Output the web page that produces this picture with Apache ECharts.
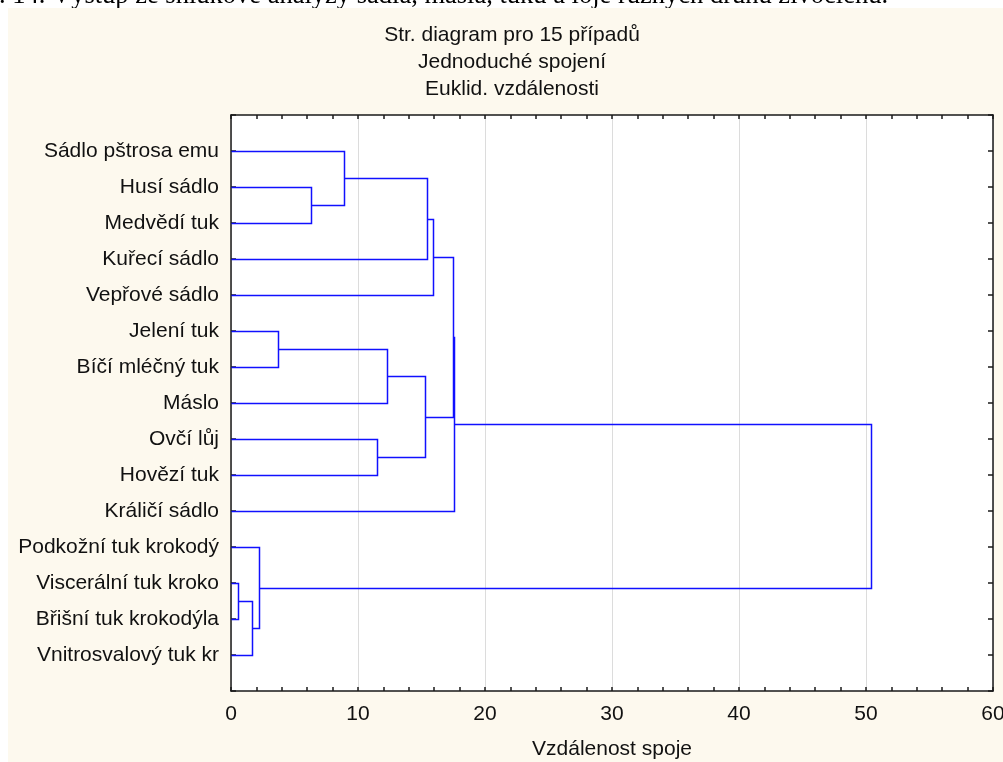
<!DOCTYPE html>
<html>
<head>
<meta charset="utf-8">
<script src="https://cdn.jsdelivr.net/npm/echarts@6/dist/echarts.min.js"></script>
<style>
  html, body { margin: 0; padding: 0; background: #fff; overflow: hidden; }
  #chart { width: 1003px; height: 762px; }
</style>
</head>
<body>
<div id="chart"></div>
<script>
// Leaf order from top to bottom of the tree
const names = [
  'Sádlo pštrosa emu',
  'Husí sádlo',
  'Medvědí tuk',
  'Kuřecí sádlo',
  'Vepřové sádlo',
  'Jelení tuk',
  'Bíčí mléčný tuk',
  'Máslo',
  'Ovčí lůj',
  'Hovězí tuk',
  'Králičí sádlo',
  'Podkožní tuk krokodý',
  'Viscerální tuk kroko',
  'Břišní tuk krokodýla',
  'Vnitrosvalový tuk kr'
];

// Agglomeration steps: [node A, node B, linkage distance].
// Leaves are nodes 0..14, each step creates node 15, 16, ...
const mergeA = [12, 15, 11, 5, 1, 0, 8, 18, 22, 20, 24, 25, 26, 27];
const mergeB = [13, 14, 16, 6, 2, 19, 9, 7, 21, 3, 4, 23, 10, 17];
const mergeDist = [0.55, 1.68, 2.2, 3.68, 6.3, 8.89, 11.47, 12.25, 15.27, 15.45, 15.92, 17.5, 17.58, 50.37];

const xTicks = [0, 10, 20, 30, 40, 50, 60];

const titleLines = ['Str. diagram pro 15 případů', 'Jednoduché spojení', 'Euklid. vzdálenosti'];
const caption = 'Obr. 14. Výstup ze shlukové analýzy sádla, másla, tuků a loje různých druhů živočichů.';
const xName = 'Vzdálenost spoje';

// Build link geometry (in data units) from the merge list
const nodeY = names.map((_, i) => i + 1);
const nodeX = names.map(() => 0);
const links = mergeA.map((a, k) => {
  const b = mergeB[k], h = mergeDist[k];
  const row = [h, nodeY[a], nodeY[b], nodeX[a], nodeX[b]];
  nodeY.push((nodeY[a] + nodeY[b]) / 2);
  nodeX.push(h);
  return row;
});

const FONT = 'Arial, "Liberation Sans", sans-serif';
const FS = 21;
const AXIS_COLOR = '#1a1a1a';
const TEXT_COLOR = '#111';
const PANEL = '#fdf9ee';

const chart = echarts.init(document.getElementById('chart'), null, { renderer: 'canvas' });

const titleY = [35, 62.2, 89.4];

function frameAxis(extra) {
  return Object.assign({
    axisLine: { show: true, onZero: false, lineStyle: { color: AXIS_COLOR, width: 1.5 } },
    splitLine: { show: false }
  }, extra);
}

chart.setOption({
  backgroundColor: PANEL,
  animation: false,
  graphic: [
    // white page margin around the panel, with the page caption running above it
    { type: 'rect', shape: { x: 0, y: 0, width: 1003, height: 8 }, style: { fill: '#fff' }, z: 10 },
    { type: 'rect', shape: { x: 0, y: 0, width: 8, height: 762 }, style: { fill: '#fff' }, z: 10 },
    {
      type: 'text', x: 888, y: 9.5, z: 11,
      style: { text: caption, font: '26.5px "Liberation Serif", "Times New Roman", serif', fill: '#000',
               textAlign: 'right', textVerticalAlign: 'bottom' }
    },
    { type: 'rect', shape: { x: 8, y: 8, width: 995, height: 8 }, style: { fill: PANEL }, z: 12 },
    { type: 'rect', shape: { x: 0, y: 8, width: 8, height: 8 }, style: { fill: '#fff' }, z: 12 }
  ].concat(titleLines.map((t, i) => ({
    type: 'text', x: 512, y: titleY[i], z: 13,
    style: { text: t, font: FS + 'px ' + FONT, fill: TEXT_COLOR, textAlign: 'center', textVerticalAlign: 'middle' }
  }))),
  grid: {
    left: 231, top: 115, width: 762, height: 576,
    outerBoundsMode: 'none', containLabel: false,
    show: true, backgroundColor: '#fff', borderWidth: 0
  },
  xAxis: [
    frameAxis({
      type: 'value', position: 'bottom', min: xTicks[0], max: xTicks[xTicks.length - 1], interval: 10,
      axisTick: { show: true, inside: true, length: 4, lineStyle: { color: AXIS_COLOR, width: 1.5 } },
      minorTick: { show: true, splitNumber: 5, length: 4, lineStyle: { color: AXIS_COLOR, width: 1.5 } },
      axisLabel: { fontSize: FS, fontFamily: FONT, color: TEXT_COLOR, margin: 13 },
      splitLine: { show: true, lineStyle: { color: '#dcdcdc', width: 1 } },
      name: xName, nameLocation: 'middle', nameGap: 48,
      nameTextStyle: { fontSize: FS, fontFamily: FONT, color: TEXT_COLOR }
    }),
    frameAxis({
      type: 'value', position: 'top', min: xTicks[0], max: xTicks[xTicks.length - 1], interval: 10,
      axisTick: { show: true, inside: true, length: 4, lineStyle: { color: AXIS_COLOR, width: 1.5 } },
      minorTick: { show: true, splitNumber: 5, length: 4, lineStyle: { color: AXIS_COLOR, width: 1.5 } },
      axisLabel: { show: false }
    })
  ],
  yAxis: [
    frameAxis({
      type: 'value', position: 'left', min: 0, max: names.length + 1, interval: 1, inverse: true,
      axisTick: { show: true, inside: true, length: 5, lineStyle: { color: AXIS_COLOR, width: 1.5 } },
      axisLabel: {
        fontSize: FS, fontFamily: FONT, color: TEXT_COLOR, margin: 12,
        formatter: v => (v >= 1 && v <= names.length ? names[v - 1] : '')
      }
    }),
    frameAxis({
      type: 'value', position: 'right', min: 0, max: names.length + 1, interval: 1, inverse: true,
      axisTick: { show: true, inside: true, length: 5, lineStyle: { color: AXIS_COLOR, width: 1.5 } },
      axisLabel: { show: false }
    })
  ],
  series: [
    {
      type: 'custom',
      xAxisIndex: 0, yAxisIndex: 0,
      data: links,
      encode: { x: [0, 3, 4], y: [1, 2] },
      clip: false,
      z: 5,
      renderItem: (params, api) => {
        const h = api.value(0), ya = api.value(1), yb = api.value(2);
        const xa = api.value(3), xb = api.value(4);
        const pts = [api.coord([xa, ya]), api.coord([h, ya]), api.coord([h, yb]), api.coord([xb, yb])]
          .map(p => [Math.round(p[0]) + 0.5, Math.round(p[1]) + 0.5]);
        return {
          type: 'polyline',
          shape: { points: pts },
          style: { stroke: '#1010ff', lineWidth: 1.5, fill: null }
        };
      }
    }
  ]
});
</script>
</body>
</html>
